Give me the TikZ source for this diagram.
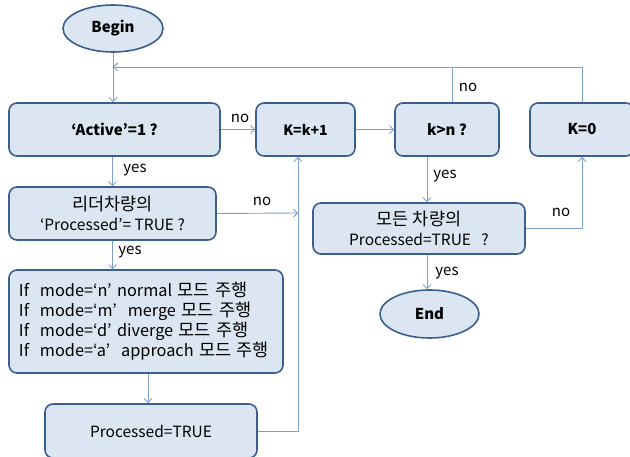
\documentclass[tikz,border=0pt]{standalone}
\usepackage{fontspec}
\setmainfont{Noto Sans CJK KR}
\usetikzlibrary{arrows.meta,shapes.geometric}
\definecolor{boxfill}{HTML}{DCE6F2}
\definecolor{boxline}{HTML}{3A5F8E}
\definecolor{linkcol}{HTML}{7F9FCF}
% Hangul set slightly larger than the Latin text around it
\newcommand\hangul[1]{{\fontsize{17.5}{20}\selectfont #1}}
\begin{document}
\begin{tikzpicture}[x=1pt,y=-1pt,
  box/.style={draw=boxline, fill=boxfill, line width=1.6pt, rounded corners=8pt,
    inner sep=0pt, font=\fontsize{15.5}{20}\selectfont, align=center},
  boldbox/.style={box, font=\fontsize{15}{20}\selectfont\bfseries},
  term/.style={ellipse, draw=boxline, fill=boxfill, line width=1.6pt, inner sep=0pt,
    font=\fontsize{15}{18}\selectfont\bfseries},
  conn/.style={draw=linkcol, line width=0.9pt},
  flow/.style={conn, -{Straight Barb[length=4pt,width=8pt]}},
  lab/.style={font=\fontsize{15}{16}\selectfont, inner sep=0pt}]
\useasboundingbox (0,0) rectangle (630,457);
\clip (0,0) rectangle (630,457);

% terminals
\node[term, minimum width=100pt, minimum height=47pt] (begin) at (113,28.5) {Begin};
\node[term, minimum width=99pt, minimum height=48pt] (end) at (429.5,314) {End};

% top row
\node[boldbox, minimum width=211pt, minimum height=53pt] (active) at (114.5,129.5) {‘Active’=1 ?};
\node[boldbox, font=\fontsize{14}{18}\selectfont\bfseries, minimum width=99pt, minimum height=53pt] (kk1) at (305.5,129.5) {K=k+1};
\node[boldbox, minimum width=104pt, minimum height=53pt] (kn) at (447,129.5) {k>n ?};
\node[boldbox, minimum width=104pt, minimum height=53pt] (k0) at (582,129.5) {K=0};

% left column
\node[box, minimum width=207pt, minimum height=53pt] (leader) at (112.5,213.5) {\hangul{리더차량의}\\‘Processed’= TRUE ?};
\node[box, align=left, font=\fontsize{16.3}{20}\selectfont, minimum width=274pt, minimum height=103pt, text width=254pt] (mode) at (146,321.5)
  {If\ \ mode=‘n’ normal \hangul{모드 주행}\\If\ \ mode=‘m’\ \ merge \hangul{모드 주행}\\If\ \ mode=‘d’ diverge \hangul{모드 주행}\\If\ \ mode=‘a’\ \ approach \hangul{모드 주행}};
\node[box, minimum width=212pt, minimum height=54pt] (proc) at (151,431) {Processed=TRUE};

% right column
\node[box, minimum width=212pt, minimum height=51pt] (allp) at (419,228.5) {\hangul{모든 차량의}\\Processed=TRUE\ \ \ ?};

% helper coordinates
\coordinate (fb) at (113,67);
\coordinate (jn) at (298,213);
\coordinate (col) at (427,0);
\coordinate (up) at (452,0);
\coordinate (mid) at (148,0);

% connectors
\draw[flow] (begin.south) -- (active.north -| begin.south);
\draw[flow] (k0.north) |- (fb);
\draw[conn] (kn.north -| up) -- (fb -| up);
\draw[flow] (active.east) -- (kk1.west);
\draw[flow] (kk1.east) -- (kn.west);
\draw[flow] (kn.south -| col) -- (allp.north -| col);
\draw[flow] (allp.east) -| (k0.south);
\draw[flow] (allp.south -| col) -- (end.north -| col);
\draw[flow] (active.south -| leader.north) -- (leader.north);
\draw[flow] (leader.east) -- (jn);
\draw[flow] (proc.east) -| (kk1.south -| jn);
\draw[flow] (leader.south) -- (mode.north -| leader.south);
\draw[flow] (mode.south -| mid) -- (proc.north -| mid);

% branch labels
\node[lab] (l1) at (240,118) {no};
\node[lab] (l2) at (135,170) {yes};
\node[lab] (l3) at (262,201) {no};
\node[lab] (l4) at (130,252) {yes};
\node[lab] (l5) at (468,87) {no};
\node[lab] (l6) at (445,176) {yes};
\node[lab] (l7) at (561,212) {no};
\node[lab] (l8) at (447,273) {yes};
\end{tikzpicture}
\end{document}
